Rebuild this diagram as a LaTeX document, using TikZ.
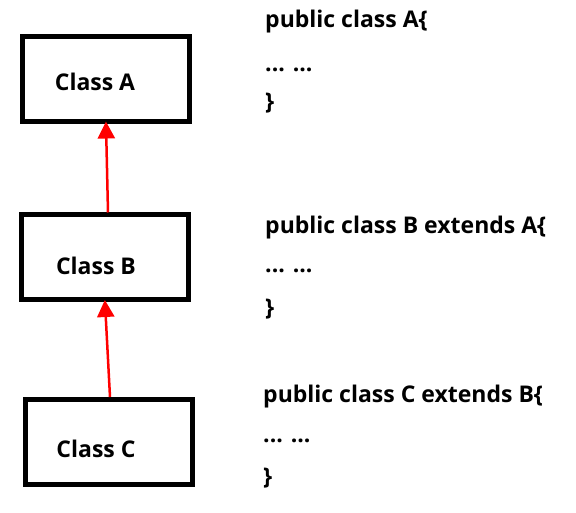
\documentclass[tikz,border=0pt]{standalone}
\usepackage{fontspec}
\setmainfont{Open Sans}
\usetikzlibrary{arrows.meta}
\begin{document}
\begin{tikzpicture}[x=1pt,y=-1pt,
  box/.style={draw=black,line width=5pt,minimum width=167pt,minimum height=85pt,inner sep=0pt},
  lbl/.style={font=\bfseries\fontsize{23}{26}\selectfont,inner sep=0pt},
  code/.style={font=\bfseries\fontsize{23}{26}\selectfont,inner sep=0pt,anchor=west},
  inh/.style={draw=red,line width=2.5pt,shorten >=-2.5pt,-{Triangle[length=17pt,width=17pt]}}]
\useasboundingbox (0,0) rectangle (576,513);
\node[box] (A) at (106,79) {};
\node[box] (B) at (105,257.5) {};
\node[box] (C) at (108.5,442) {};
\node[lbl] (la) at (95,82) {Class A};
\node[lbl] (lb) at (96,266) {Class B};
\node[lbl] (lc) at (96,449) {Class C};
\draw[inh] (B.north) ++(3,0) coordinate (bs) (bs) -- (A.south);
\draw[inh] (C.north) ++(1.5,0) coordinate (cs) (cs) -- (B.south);
\node[code] (a1) at (265,22) {public class A\{};
\node[code] (a2) at (265,70) {... ...};
\node[code] (a3) at (265,103) {\}};
\node[code] (b1) at (265,228) {public class B extends A\{};
\node[code] (b2) at (265,271) {... ...};
\node[code] (b3) at (265,309) {\}};
\node[code] (c1) at (263,397) {public class C extends B\{};
\node[code] (c2) at (263,441) {... ...};
\node[code] (c3) at (263,478) {\}};
\end{tikzpicture}
\end{document}
